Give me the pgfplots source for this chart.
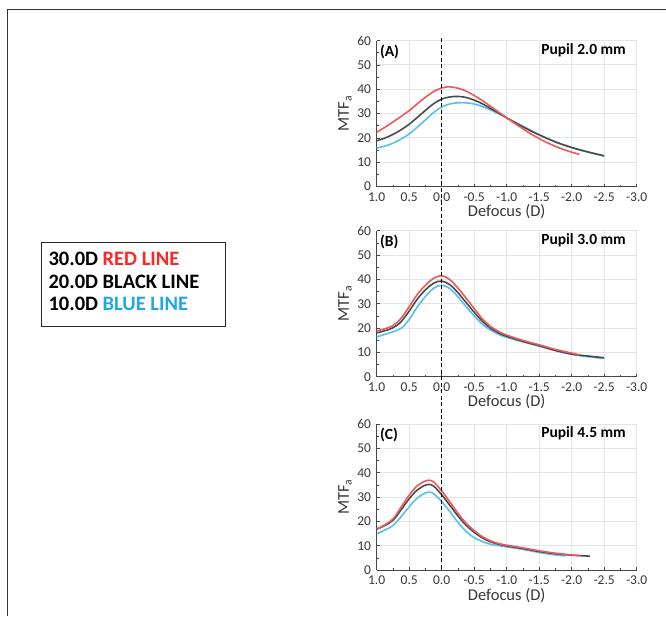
\documentclass[border=0pt]{standalone}
\usepackage{pgfplots}
\pgfplotsset{compat=1.18}
\usepackage{fontspec}
\setmainfont{Carlito}

\definecolor{redline}{RGB}{238,88,90}
\definecolor{blackline}{RGB}{75,75,75}
\definecolor{blueline}{RGB}{86,192,238}
\definecolor{redtext}{RGB}{255,38,38}
\definecolor{bluetext}{RGB}{32,168,226}
\definecolor{axisgray}{RGB}{70,70,70}
\definecolor{gridgray}{RGB}{222,230,234}
\definecolor{labelgray}{RGB}{55,55,55}

\tikzset{
  paneltag/.style={font=\bfseries\fontsize{15.5}{16}\selectfont, text=black, inner sep=0pt},
}

\pgfplotsset{
  mtfaxis/.style={
    scale only axis, width=260pt, height=146pt,
    anchor=south west,
    x dir=reverse, xmin=-3, xmax=1, ymin=0, ymax=60,
    xtick={-3,-2.5,-2,-1.5,-1,-0.5,0,0.5,1},
    xticklabels={-3.0,-2.5,-2.0,-1.5,-1.0,-0.5,0.0,0.5,1.0},
    ytick={0,10,20,30,40,50,60},
    yticklabels={0,10,20,30,40,50,60},
    minor x tick num=1, minor y tick num=1,
    axis x line=bottom, axis y line=left,
    axis line style={-, draw=axisgray, line width=1pt},
    grid=major, major grid style={draw=gridgray, line width=0.7pt},
    tick align=inside, major tick length=3pt, minor tick length=2pt,
    every tick/.style={draw=axisgray, line width=0.6pt},
    tick label style={font=\fontsize{13.5}{14}\selectfont, text=labelgray, inner sep=1pt},
    xticklabel style={yshift=-5pt},
    yticklabel style={xshift=-4.5pt},
    label style={font=\fontsize{16.5}{18}\selectfont, text=labelgray},
    xlabel={Defocus (D)},
    ylabel={MTF\textsubscript{a}},
    xlabel style={at={(axis description cs:0.5,-0.172)}, anchor=center},
    ylabel style={at={(axis description cs:-0.122,0.5)}, anchor=center},
    every axis plot/.append style={smooth, tension=0.6, line width=1.6pt, no marks},
  },
}

\begin{document}
\begin{tikzpicture}
\useasboundingbox (0pt,0pt) rectangle (666pt,-616pt);

% page frame
\draw[line width=1.5pt, draw=black!80] (7.3pt,-616pt) -- (7.3pt,-9.3pt) -- (666pt,-9.3pt);

% legend box
\draw[line width=1pt, draw=black!85] (41pt,-242pt) rectangle (225pt,-326pt);
\begin{scope}[every node/.style={anchor=west, inner sep=0pt, font=\bfseries\fontsize{20.5}{21}\selectfont}]
  \node at (48.3pt,-259.3pt) {30.0D \textcolor{redtext}{RED LINE}};
  \node at (48.3pt,-281.7pt) {20.0D BLACK LINE};
  \node at (48.3pt,-304.0pt) {10.0D \textcolor{bluetext}{BLUE LINE}};
\end{scope}

% (A) pupil 2.0 mm
\begin{axis}[mtfaxis, at={(376.7pt,-186.5pt)}]
  \addplot[blueline] coordinates {(1.0,15.8) (0.875,16.6) (0.75,17.8) (0.625,19.5) (0.5,21.6) (0.375,24.4) (0.25,27.4) (0.125,30.4) (0.0,32.7) (-0.125,33.9) (-0.25,34.4) (-0.375,34.4) (-0.5,33.9) (-0.625,32.9) (-0.75,31.5) (-0.875,29.9) (-1.0,28.2) (-1.125,26.5) (-1.25,24.8) (-1.375,23.0) (-1.5,21.3) (-1.75,18.4) (-2.0,16.1) (-2.25,14.2) (-2.5,12.5)};
  \addplot[blackline] coordinates {(1.0,18.8) (0.875,19.9) (0.75,21.4) (0.625,23.3) (0.5,25.6) (0.375,28.4) (0.25,31.3) (0.125,34.0) (0.0,35.9) (-0.125,36.8) (-0.25,37.0) (-0.375,36.6) (-0.5,35.5) (-0.625,34.0) (-0.75,32.1) (-0.875,30.2) (-1.0,28.2) (-1.125,26.3) (-1.25,24.5) (-1.375,22.8) (-1.5,21.2) (-1.75,18.3) (-2.0,16.0) (-2.25,14.2) (-2.5,12.6)};
  \addplot[redline] coordinates {(1.0,22.3) (0.875,24.3) (0.75,26.5) (0.625,28.8) (0.5,31.2) (0.375,34.0) (0.25,36.7) (0.125,39.0) (0.0,40.5) (-0.1,41.0) (-0.25,40.4) (-0.375,39.2) (-0.5,37.4) (-0.625,35.3) (-0.75,33.0) (-0.875,30.6) (-1.0,28.2) (-1.125,25.9) (-1.25,23.7) (-1.375,21.6) (-1.5,19.7) (-1.625,18.0) (-1.75,16.5) (-1.875,15.2) (-2.0,14.1) (-2.12,13.2)};
  \node[paneltag, anchor=west] at (axis description cs:0.012,0.925) {(A)};
  \node[paneltag, anchor=east] at (axis description cs:0.959,0.936) {Pupil 2.0 mm};
  \coordinate (dtop) at (axis cs:0,61);
\end{axis}

% (B) pupil 3.0 mm
\begin{axis}[mtfaxis, at={(376.7pt,-376.7pt)}]
  \addplot[blueline] coordinates {(1.0,16.3) (0.875,17.4) (0.75,18.5) (0.625,19.9) (0.5,23.5) (0.375,28.7) (0.25,33.0) (0.125,36.3) (0.0,37.6) (-0.125,36.2) (-0.25,32.8) (-0.375,28.8) (-0.5,25.0) (-0.625,21.6) (-0.75,19.2) (-0.875,17.4) (-1.0,16.2) (-1.25,14.3) (-1.5,12.6) (-1.75,10.7) (-2.0,9.2) (-2.25,8.2) (-2.5,7.5)};
  \addplot[blackline] coordinates {(1.0,18.0) (0.875,18.9) (0.75,20.1) (0.625,22.6) (0.5,27.0) (0.375,31.9) (0.25,35.7) (0.125,38.4) (0.0,39.3) (-0.125,37.8) (-0.25,34.5) (-0.375,30.5) (-0.5,26.5) (-0.625,22.8) (-0.75,20.0) (-0.875,18.0) (-1.0,16.6) (-1.25,14.5) (-1.5,12.7) (-1.75,10.8) (-2.0,9.3) (-2.25,8.5) (-2.5,7.8)};
  \addplot[redline] coordinates {(1.0,18.8) (0.875,19.7) (0.75,21.0) (0.625,24.0) (0.5,28.8) (0.375,33.8) (0.25,37.6) (0.125,40.4) (0.0,41.5) (-0.125,39.9) (-0.25,36.4) (-0.375,32.3) (-0.5,28.0) (-0.625,23.8) (-0.75,20.7) (-0.875,18.6) (-1.0,17.1) (-1.25,14.9) (-1.5,13.1) (-1.75,11.2) (-2.0,9.7) (-2.12,9.0)};
  \node[paneltag, anchor=west] at (axis description cs:0.012,0.925) {(B)};
  \node[paneltag, anchor=east] at (axis description cs:0.959,0.936) {Pupil 3.0 mm};
\end{axis}

% (C) pupil 4.5 mm
\begin{axis}[mtfaxis, at={(376.7pt,-570pt)}]
  \addplot[blueline] coordinates {(1.0,14.9) (0.875,16.4) (0.75,18.3) (0.625,21.9) (0.5,26.0) (0.375,29.6) (0.25,31.7) (0.2,32.0) (0.125,31.4) (0.0,28.1) (-0.125,24.0) (-0.25,19.6) (-0.375,15.9) (-0.5,13.3) (-0.625,11.7) (-0.75,10.6) (-0.875,10.0) (-1.0,9.5) (-1.25,8.5) (-1.5,7.2) (-1.75,6.2) (-1.9,5.8)};
  \addplot[blackline] coordinates {(1.0,16.8) (0.875,18.3) (0.75,20.4) (0.625,24.7) (0.5,29.3) (0.375,32.9) (0.25,34.9) (0.2,35.2) (0.125,34.5) (0.0,30.9) (-0.125,26.6) (-0.25,22.2) (-0.375,18.4) (-0.5,15.5) (-0.625,13.2) (-0.75,11.6) (-0.875,10.6) (-1.0,9.9) (-1.25,8.8) (-1.5,7.6) (-1.75,6.7) (-2.0,6.1) (-2.28,5.7)};
  \addplot[redline] coordinates {(1.0,16.8) (0.875,18.6) (0.75,21.0) (0.625,25.8) (0.5,30.8) (0.375,34.6) (0.25,36.6) (0.2,36.9) (0.125,36.2) (0.0,32.5) (-0.125,28.0) (-0.25,23.3) (-0.375,19.3) (-0.5,16.2) (-0.625,13.7) (-0.75,12.0) (-0.875,10.9) (-1.0,10.2) (-1.25,9.1) (-1.5,7.9) (-1.75,6.9) (-2.0,6.2) (-2.12,5.9)};
  \node[paneltag, anchor=west] at (axis description cs:0.012,0.925) {(C)};
  \node[paneltag, anchor=east] at (axis description cs:0.959,0.936) {Pupil 4.5 mm};
  \coordinate (dbot) at (axis cs:0,0);
\end{axis}

% in-focus reference line through all three panels
\draw[line width=0.9pt, dash pattern=on 4pt off 2.5pt] (dtop) -- (dbot);
\end{tikzpicture}
\end{document}
